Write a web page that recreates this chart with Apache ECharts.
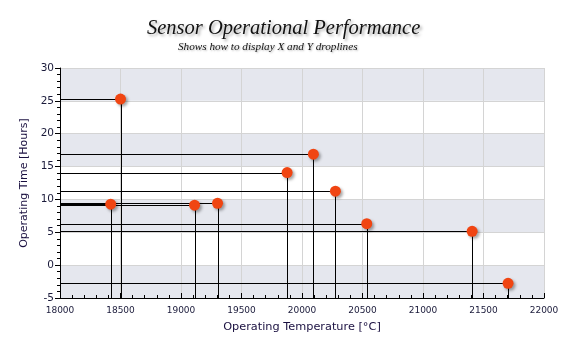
<!DOCTYPE html>
<html>
<head>
<meta charset="utf-8">
<script src="https://cdn.jsdelivr.net/npm/echarts@6/dist/echarts.min.js"></script>
<style>html,body{margin:0;padding:0;background:#fff}#c{width:572px;height:362px}</style>
</head>
<body>
<div id="c"></div>
<script>
var temperatures = [18500, 20094, 19877, 20276, 20535, 21406, 21703, 18419, 19112, 19302];
var hours = [25.27, 16.89, 14.09, 11.25, 6.31, 5.15, -2.77, 9.27, 9.12, 9.42];
var xMin = 18000, xMax = 22000;
var yMin = -5, yMax = 30;
var titleText = 'Sensor Operational Performance';
var subtitleText = 'Shows how to display X and Y droplines';
var xName = 'Operating Temperature [°C]';
var yName = 'Operating Time [Hours]';

var points = temperatures.map(function (t, i) { return [t, hours[i]]; });

var chart = echarts.init(document.getElementById('c'), null, {renderer: 'canvas'});
chart.setOption({
  animation: false,
  title: [{
    text: titleText,
    left: 147,
    top: 19,
    padding: 0,
    textStyle: {
      fontFamily: 'Liberation Serif', fontStyle: 'italic', fontWeight: 'normal',
      fontSize: 20.5, color: '#111111',
      textShadowColor: 'rgba(0,0,0,0.35)', textShadowBlur: 3, textShadowOffsetX: 2, textShadowOffsetY: 2
    }
  }, {
    text: subtitleText,
    left: 178,
    top: 42,
    padding: 0,
    textStyle: {
      fontFamily: 'Liberation Serif', fontStyle: 'italic', fontWeight: 'normal',
      fontSize: 11.2, color: '#111111',
      textShadowColor: 'rgba(0,0,0,0.3)', textShadowBlur: 2, textShadowOffsetX: 1, textShadowOffsetY: 1
    }
  }],
  grid: {left: 60, right: 28, top: 68, bottom: 64},
  xAxis: {
    type: 'value', min: xMin, max: xMax, interval: 500,
    name: xName, nameLocation: 'middle', nameGap: 24,
    nameTextStyle: {fontFamily: 'DejaVu Sans', fontSize: 11.3, color: '#1a1040'},
    axisLine: {show: true, onZero: false, lineStyle: {color: '#000', width: 1}},
    axisTick: {show: true, inside: true, length: 5, lineStyle: {color: '#000'}},
    minorTick: {show: true, splitNumber: 5, length: 3, lineStyle: {color: '#000'}},
    axisLabel: {fontFamily: 'DejaVu Sans', fontSize: 9, color: '#1a1a3a', margin: 8,
      formatter: function (v) { return String(v); }},
    splitLine: {show: true, lineStyle: {color: '#d4d4d4', width: 1}}
  },
  yAxis: {
    type: 'value', min: yMin, max: yMax, interval: 5,
    name: yName, nameLocation: 'middle', nameGap: 30,
    nameTextStyle: {fontFamily: 'DejaVu Sans', fontSize: 11, color: '#1a1040'},
    axisLine: {show: true, onZero: false, lineStyle: {color: '#000', width: 1}},
    axisTick: {show: true, inside: false, length: 5, lineStyle: {color: '#000'}},
    minorTick: {show: true, splitNumber: 5, length: 3, lineStyle: {color: '#000'}},
    axisLabel: {fontFamily: 'DejaVu Sans', fontSize: 10.5, color: '#1a1a3a', margin: 6},
    splitLine: {show: true, lineStyle: {color: '#d4d4d4', width: 1}},
    splitArea: {show: true, areaStyle: {color: ['#e5e7ee', '#ffffff']}}
  },
  series: [
    {
      type: 'custom',
      data: points,
      z: 2,
      silent: true,
      renderItem: function (params, api) {
        var x = api.value(0), y = api.value(1);
        var p = api.coord([x, y]);
        var pl = api.coord([xMin, y]);
        var pb = api.coord([x, yMin]);
        var st = {stroke: '#000', lineWidth: 1};
        return {
          type: 'group',
          children: [
            {type: 'line', shape: {x1: pl[0], y1: Math.round(pl[1]) + 0.5, x2: p[0], y2: Math.round(p[1]) + 0.5}, style: st},
            {type: 'line', shape: {x1: Math.round(p[0]) + 0.5, y1: p[1], x2: Math.round(pb[0]) + 0.5, y2: pb[1]}, style: st}
          ]
        };
      }
    },
    {
      type: 'scatter',
      data: points,
      z: 3,
      symbol: 'circle',
      symbolSize: 11,
      itemStyle: {
        color: '#f04512', opacity: 1,
        shadowColor: 'rgba(0,0,0,0.35)', shadowBlur: 3, shadowOffsetX: 2, shadowOffsetY: 2
      }
    }
  ]
});
</script>
</body>
</html>
